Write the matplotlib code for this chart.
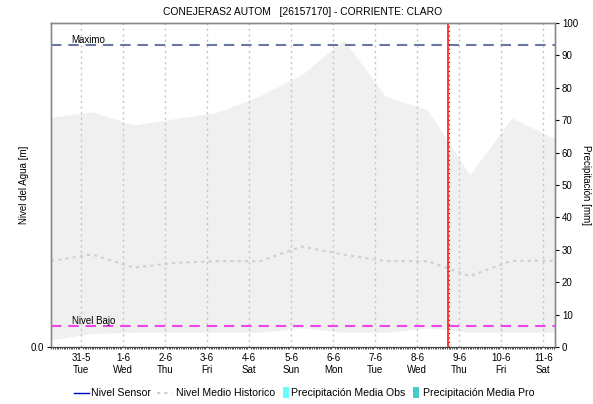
import matplotlib
matplotlib.use("Agg")
import matplotlib.pyplot as plt
from matplotlib.ticker import MultipleLocator
from matplotlib.lines import Line2D
from matplotlib.patches import Rectangle
import numpy as np

plt.rcParams['font.family'] = ['Liberation Sans', 'DejaVu Sans']

# ---- data ----
title = "CONEJERAS2 AUTOM   [26157170] - CORRIENTE: CLARO"
day_labels = ["31-5\nTue", "1-6\nWed", "2-6\nThu", "3-6\nFri", "4-6\nSat", "5-6\nSun",
              "6-6\nMon", "7-6\nTue", "8-6\nWed", "9-6\nThu", "10-6\nFri", "11-6\nSat"]
# time in days from 31-5 00:00
hist_t = [-0.72, 0.25, 1.25, 2.25, 3.25, 4.25, 5.25, 6.25, 7.25, 8.25, 9.25, 10.25, 11.25, 11.28]
band_max = [0.709, 0.726, 0.685, 0.705, 0.725, 0.775, 0.840, 0.948, 0.773, 0.731, 0.531, 0.707, 0.645, 0.643]
band_min = [0.022, 0.042, 0.045, 0.045, 0.045, 0.045, 0.059, 0.045, 0.045, 0.059, 0.045, 0.045, 0.045, 0.045]
hist_mean = [0.265, 0.286, 0.245, 0.260, 0.265, 0.265, 0.310, 0.285, 0.265, 0.265, 0.219, 0.266, 0.266, 0.266]
nivel_maximo = 0.931
nivel_bajo = 0.066
now_t = 8.74
x_range = (-0.72, 11.28)
level_range = (0.0, 1.0)
precip_range = (0, 100)
legend_labels = ["Nivel Sensor", "Nivel Medio Historico", "Precipitación Media Obs", "Precipitación Media Pro"]

W, H = 593, 404
fig = plt.figure(figsize=(W / 100, H / 100), dpi=100)
ax = fig.add_axes([51 / W, 57 / H, 504 / W, 324 / H])
ax2 = ax.twinx()

ax.fill_between(hist_t, band_min, band_max, color='#f0f0f0', lw=0, zorder=1)
for d in range(len(day_labels)):
    ax.axvline(d, color='#c4c4c4', lw=1, ls=(0, (1.5, 2.5)), zorder=2)
ax.plot(hist_t, hist_mean, color='#cfcfcf', lw=1.5, ls=(0, (1.5, 2)), zorder=3)
ax.axhline(nivel_maximo, color='#6a779f', lw=1.5, ls=(0, (5, 3.3)), zorder=4)
ax.axhline(nivel_bajo, color='#ee44ee', lw=1.5, ls=(0, (5, 3.3)), zorder=4)
ax.text(-0.23, nivel_maximo, "Maximo", fontsize=7, ha='left', va='bottom', zorder=5)
ax.text(-0.23, nivel_bajo, "Nivel Bajo", fontsize=7, ha='left', va='bottom', zorder=5)
ax.axvline(now_t, color='#ff2a2a', lw=1.3, zorder=6)
ax.axvline(now_t + 0.02, color='#a00000', lw=0.8, ls=(0, (1, 3)), zorder=7)

ax.set_xlim(*x_range)
ax.set_ylim(*level_range)
ax.set_xticks(range(len(day_labels)))
ax.set_xticklabels(day_labels, fontsize=7, linespacing=1.3)
ax.xaxis.set_minor_locator(MultipleLocator(1 / 24))
ax.tick_params(axis='x', which='major', length=0, pad=4)
ax.tick_params(axis='x', which='minor', length=1.5, width=0.6, color='#333333')
ax.set_yticks([0.0])
ax.set_yticklabels(["0.0"], fontsize=7)
ax.tick_params(axis='y', length=3, width=0.8, pad=2)
ax.set_ylabel("Nivel del Agua [m]", fontsize=7, labelpad=1.5)

ax2.set_ylim(*precip_range)
ax2.set_yticks(np.arange(0, 101, 10))
ax2.tick_params(axis='y', labelsize=7, length=3, width=0.8, pad=2)
ax2.set_ylabel("Precipitación [mm]", fontsize=7, rotation=-90, labelpad=9)

for a in (ax, ax2):
    for s in ('left', 'right', 'top'):
        a.spines[s].set_color('#8a8a8a')
        a.spines[s].set_linewidth(1)
    a.spines['bottom'].set_color('#444444')
    a.spines['bottom'].set_linewidth(0.8)
    a.spines['bottom'].set_linestyle((0, (1, 1)))

ax.set_title(title, fontsize=7.4, pad=6)

# ---- legend (drawn in figure pixel positions) ----
def fx(px):
    return px / W

def fy(py):
    return 1 - py / H

ly = 392.5
fig.add_artist(Line2D([fx(74), fx(89)], [fy(ly), fy(ly)], color='#0000cc', lw=1))
fig.add_artist(Line2D([fx(157), fx(172)], [fy(ly), fy(ly)], color='#cfcfcf', lw=1.5, ls=(0, (1.5, 2))))
fig.add_artist(Rectangle((fx(283), fy(398)), fx(6), 11 / H, facecolor='#66ffff', edgecolor='none'))
fig.add_artist(Rectangle((fx(413), fy(398)), fx(6), 11 / H, facecolor='#44cccc', edgecolor='none'))
for px, lab in zip([91, 176, 291, 423], legend_labels):
    fig.text(fx(px), fy(ly), lab, fontsize=7.6, ha='left', va='center_baseline')

fig.savefig("out.png", dpi=100)
